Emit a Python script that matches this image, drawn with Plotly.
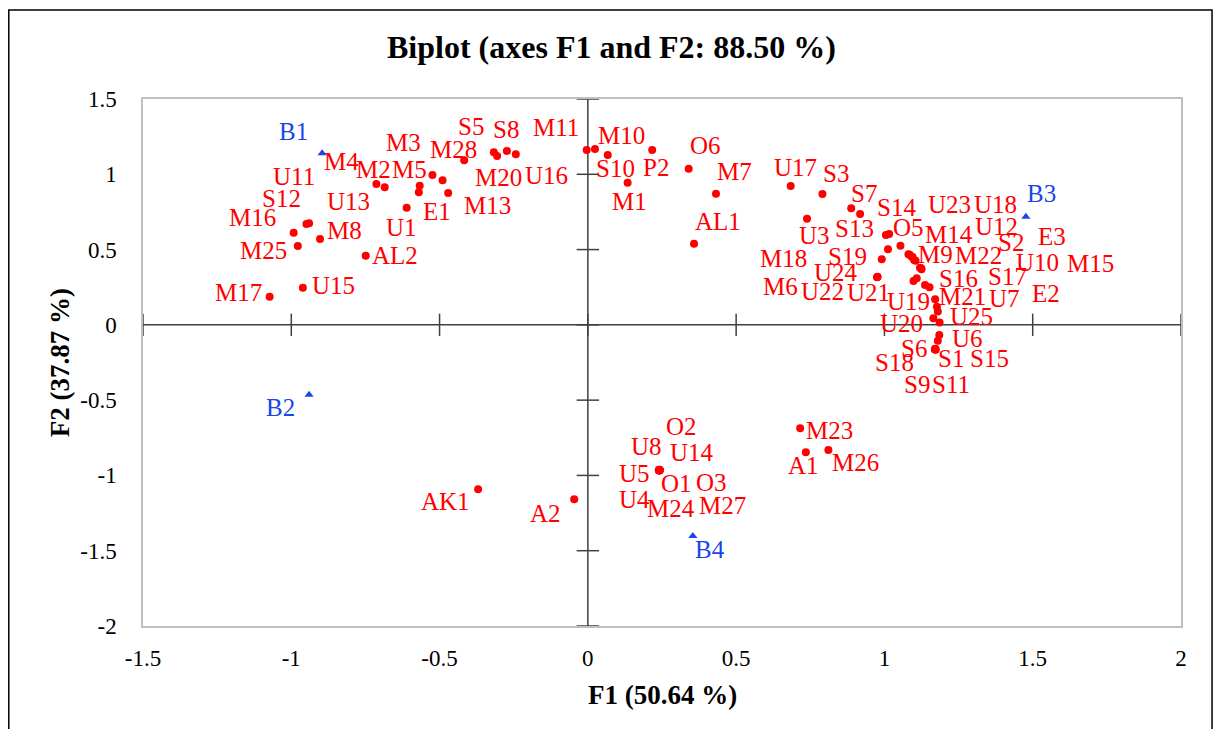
import plotly.graph_objects as go

# ---------------- data ----------------
obs_names = ["M17", "U15", "M25", "M8", "M16", "S12", "U11", "M2", "U13", "M5",
             "E1", "M3", "M4", "M13", "U1", "AL2",
             "M28", "S5", "M20", "S8", "U16", "M11", "M10", "S10", "M1", "P2",
             "O6", "M7", "AL1",
             "U17", "S3", "U3", "S7", "S13", "S14", "O5", "S19", "U23", "M18",
             "U24", "M6", "U22", "M14", "M9", "M22", "U12", "U18", "S2", "E3",
             "U10", "M15", "U21", "S16", "U19", "M21", "S17", "U7", "U25", "U20",
             "E2", "U6", "S6", "S1", "S18", "S15", "S9", "S11",
             "O2", "U8", "U14", "U5", "O1", "O3", "U4", "M24", "M27",
             "AK1", "A2", "M23", "A1", "M26"]
obs_f1 = [-1.073, -0.961, -0.978, -0.903, -0.992, -0.949, -0.940, -0.713, -0.685, -0.567,
          -0.570, -0.524, -0.490, -0.471, -0.611, -0.749,
          -0.417, -0.317, -0.306, -0.273, -0.243, -0.004, 0.024, 0.067, 0.134, 0.217,
          0.340, 0.432, 0.358,
          0.684, 0.791, 0.739, 0.888, 0.918, 1.005, 1.016, 1.012, 1.054, 0.991,
          0.976, 0.975, 0.977, 1.081, 1.092, 1.100, 1.124, 1.085, 1.095, 1.105,
          1.120, 1.125, 1.098, 1.109, 1.137, 1.152, 1.171, 1.177, 1.180, 1.165,
          1.186, 1.185, 1.180, 1.171, 1.172, 1.170, 1.173, 1.171,
          0.241, 0.240, 0.242, 0.239, 0.241, 0.242, 0.240, 0.241, 0.243,
          -0.370, -0.046, 0.716, 0.735, 0.811]
obs_f2 = [0.187, 0.247, 0.524, 0.570, 0.612, 0.670, 0.675, 0.936, 0.914, 0.924,
          0.880, 0.995, 0.960, 0.876, 0.778, 0.459,
          1.093, 1.146, 1.122, 1.155, 1.133, 1.161, 1.168, 1.128, 0.944, 1.161,
          1.037, 0.871, 0.539,
          0.922, 0.869, 0.705, 0.774, 0.736, 0.597, 0.604, 0.502, 0.526, 0.436,
          0.318, 0.317, 0.319, 0.469, 0.453, 0.431, 0.376, 0.465, 0.450, 0.425,
          0.380, 0.370, 0.291, 0.309, 0.265, 0.250, 0.170, 0.121, 0.088, 0.044,
          0.015, -0.067, -0.105, -0.162, -0.160, -0.163, -0.165, -0.158,
          -0.962, -0.964, -0.963, -0.965, -0.966, -0.965, -0.967, -0.968, -0.966,
          -1.092, -1.158, -0.687, -0.846, -0.831]

var_names = ["B1", "B2", "B3", "B4"]
var_f1 = [-0.896, -0.940, 1.477, 0.354]
var_f2 = [1.139, -0.465, 0.718, -1.402]

x_ticks = [-1.5, -1, -0.5, 0, 0.5, 1, 1.5, 2]
x_tick_text = ["-1.5", "-1", "-0.5", "0", "0.5", "1", "1.5", "2"]
y_ticks = [-2, -1.5, -1, -0.5, 0, 0.5, 1, 1.5]
y_tick_text = ["-2", "-1.5", "-1", "-0.5", "0", "0.5", "1", "1.5"]

title_text = "Biplot (axes F1 and F2: 88.50 %)"
x_title = "F1 (50.64 %)"
y_title = "F2 (37.87 %)"

# ---------------- label placement (pixel offsets: dx right, dy up) ----------------
label_offset = {
    "M17": (-31, 4), "U15": (31, 2), "M25": (-34, -5), "M8": (24, 9), "M16": (-41, 15),
    "S12": (-25, 25), "U11": (-15, 47), "M2": (-3, 14), "U13": (-36, -14), "M5": (-10, 16),
    "E1": (18, -19), "M3": (-29, 33), "M4": (-101, 19), "M13": (39, -13), "U1": (-5, -20),
    "AL2": (29, 0),
    "M28": (-11, 11), "S5": (-23, 26), "M20": (1, -22), "S8": (-1, 21), "U16": (31, -21),
    "M11": (-31, 23), "M10": (27, 13), "S10": (8, -13), "M1": (2, -19), "P2": (4, -17),
    "O6": (17, 23), "M7": (19, 22), "AL1": (24, 22),
    "U17": (5, 19), "S3": (14, 21), "U3": (7, -17), "S7": (13, 15), "S13": (-6, -14),
    "S14": (11, 27), "O5": (19, 6), "S19": (-40, -7), "U23": (49, 41), "M18": (-98, 1),
    "U24": (-41, 4), "M6": (-97, -9), "U22": (-55, -15), "M14": (41, 20), "M9": (24, 2),
    "M22": (64, 4), "U12": (75, 42), "U18": (86, 50), "S2": (98, 15), "E3": (136, 24),
    "U10": (117, 5), "M15": (169, 6), "U21": (-45, -11), "S16": (42, 0), "U19": (-17, -17),
    "M21": (33, -9), "S17": (72, 23), "U7": (68, 8), "U25": (34, -5), "U20": (-32, -5),
    "E2": (106, 29), "U6": (28, -4), "S6": (-24, -8), "S1": (16, -9), "S18": (-41, -14),
    "S15": (55, -9), "S9": (-19, -35), "S11": (16, -36),
    "O2": (22, 43), "U8": (-13, 24), "U14": (32, 17), "U5": (-24, -3), "O1": (17, -13),
    "O3": (52, -12), "U4": (-25, -29), "M24": (12, -38), "M27": (63, -35),
    "AK1": (-33, -12), "A2": (-29, -14), "M23": (29, -2), "A1": (-2, -13), "M26": (27, -13),
    "B1": (-29, 22), "B2": (-29, -13), "B3": (16, 23), "B4": (17, -14),
}

RED = "#FF0000"
BLUE = "#1846E8"
AXIS_DARK = "#404040"
FONT = "Liberation Serif"

fig = go.Figure()

fig.add_trace(go.Scatter(
    x=obs_f1, y=obs_f2, mode="markers",
    marker=dict(color=RED, size=8, symbol="circle"),
    showlegend=False, hoverinfo="skip", cliponaxis=False))

fig.add_trace(go.Scatter(
    x=var_f1, y=var_f2, mode="markers",
    marker=dict(color=BLUE, size=8, symbol="triangle-up"),
    showlegend=False, hoverinfo="skip", cliponaxis=False))

# tick marks on the zero axes
fig.add_trace(go.Scatter(
    x=x_ticks, y=[0] * len(x_ticks), mode="markers",
    marker=dict(symbol="line-ns", size=16, line=dict(color=AXIS_DARK, width=1.5)),
    showlegend=False, hoverinfo="skip", cliponaxis=False))
fig.add_trace(go.Scatter(
    x=[0] * len(y_ticks), y=y_ticks, mode="markers",
    marker=dict(symbol="line-ew", size=16, line=dict(color=AXIS_DARK, width=1.5)),
    showlegend=False, hoverinfo="skip", cliponaxis=False))

annotations = []
for names, xs, ys, col in ((obs_names, obs_f1, obs_f2, RED),
                           (var_names, var_f1, var_f2, BLUE)):
    for n, xv, yv in zip(names, xs, ys):
        dx, dy = label_offset.get(n, (0, 0))
        annotations.append(dict(
            x=xv, y=yv, xref="x", yref="y", text=n, showarrow=False,
            xanchor="center", yanchor="middle", xshift=dx, yshift=dy,
            font=dict(family=FONT, size=25, color=col)))

annotations.append(dict(
    x=0.4518, y=1.0987, xref="paper", yref="paper", text="<b>" + title_text + "</b>",
    showarrow=False, xanchor="center", yanchor="middle",
    font=dict(family=FONT, size=32, color="black")))
annotations.append(dict(
    x=0.5, y=-0.131, xref="paper", yref="paper", text="<b>" + x_title + "</b>",
    showarrow=False, xanchor="center", yanchor="middle",
    font=dict(family=FONT, size=27, color="black")))
annotations.append(dict(
    x=-0.0803, y=0.5, xref="paper", yref="paper", text="<b>" + y_title + "</b>",
    showarrow=False, xanchor="center", yanchor="middle", textangle=-90,
    font=dict(family=FONT, size=27, color="black")))

shapes = [
    # zero axes
    dict(type="line", xref="x", yref="paper", x0=0, x1=0, y0=0, y1=1,
         line=dict(color=AXIS_DARK, width=1.5), layer="below"),
    dict(type="line", xref="paper", yref="y", x0=0, x1=1, y0=0, y1=0,
         line=dict(color=AXIS_DARK, width=1.5), layer="below"),
    # outer chart frame
    dict(type="rect", xref="paper", yref="paper", x0=-0.1293, x1=1.0299,
         y0=-0.2258, y1=1.1689, line=dict(color="black", width=1.5), layer="below"),
]

fig.update_layout(
    width=1205, height=721,
    margin=dict(l=135, r=32, t=91, b=103),
    paper_bgcolor="white", plot_bgcolor="white",
    annotations=annotations, shapes=shapes,
    xaxis=dict(range=[-1.5, 2], tickvals=x_ticks, ticktext=x_tick_text,
               showgrid=False, zeroline=False, showline=True, mirror=True,
               linecolor="#BFBFBF", linewidth=1.5, ticks="",
               ticklabelstandoff=11,
               tickfont=dict(family=FONT, size=23, color="black")),
    yaxis=dict(range=[-2, 1.5], tickvals=y_ticks, ticktext=y_tick_text,
               showgrid=False, zeroline=False, showline=True, mirror=True,
               linecolor="#BFBFBF", linewidth=1.5, ticks="",
               ticklabelstandoff=20,
               tickfont=dict(family=FONT, size=23, color="black")),
)

fig.write_html("out.html")
